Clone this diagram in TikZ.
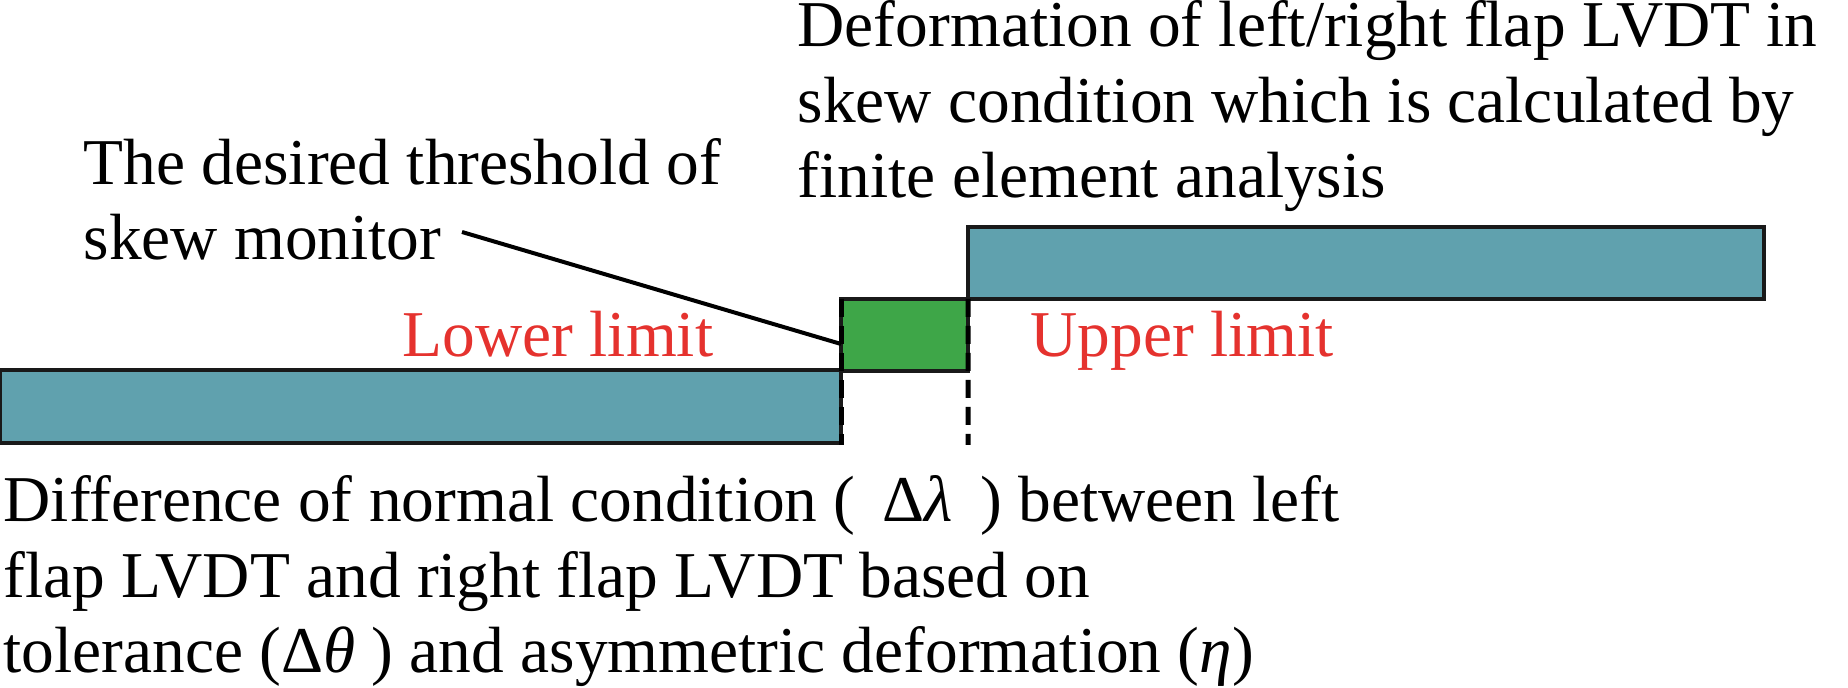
\documentclass[tikz,border=0pt]{standalone}
\usepackage{fontspec}
\setmainfont{Liberation Serif}
\usetikzlibrary{positioning}
\definecolor{barteal}{RGB}{96,161,174}
\definecolor{gapgreen}{RGB}{62,166,72}
\definecolor{limred}{RGB}{229,50,46}
\tikzset{
  bar/.style={draw=black!90, line width=0.04cm, fill=barteal, inner sep=0pt, outer sep=0pt, anchor=north west},
  txt/.style={inner sep=0pt, align=left, anchor=base west, font=\fontsize{18.6}{21.6}\selectfont},
  dashline/.style={line width=0.05cm, dash pattern=on 0.18cm off 0.09cm}
}
\begin{document}
\begin{tikzpicture}
  \useasboundingbox (0,0) rectangle (18.48,-6.88);
  \node[bar, minimum width=8.41cm, minimum height=0.73cm] (lowbar) at (0,-3.70) {};
  \node[bar, fill=gapgreen, minimum width=1.27cm, minimum height=0.72cm] (gap) at (8.41,-2.99) {};
  \node[bar, minimum width=7.96cm, minimum height=0.72cm] (upbar) at (9.68,-2.27) {};
  % base west is the baseline of the last line
  \node[txt] (deform) at (7.97,-1.98) {Deformation of left/right flap LVDT in\\skew condition which is calculated by\\finite element analysis};
  \node[txt] (thresh) at (0.83,-2.60) {The desired threshold of\\skew monitor};
  \node[txt, text=limred] (lowlab) at (4.02,-3.57) {Lower limit};
  \node[txt, text=limred] (uplab) at (10.30,-3.57) {Upper limit};
  \node[txt] (diff) at (0.03,-6.73) {Difference of normal condition (\,\ Δ\textit{λ}\ \,) between left\\flap LVDT and right flap LVDT based on\\tolerance (Δ\textit{θ} ) and asymmetric deformation (\textit{η})};
  \coordinate (lead) at (4.62,-2.32);
  \coordinate (lowend) at (8.41,-4.45);
  \coordinate (upend) at (9.68,-4.45);
  \draw[line width=0.04cm] (lead) -- (gap.west |- 0,-3.44);
  \draw[dashline] (gap.north west) -- (lowend);
  \draw[dashline] (gap.north east) -- (upend);
\end{tikzpicture}
\end{document}
